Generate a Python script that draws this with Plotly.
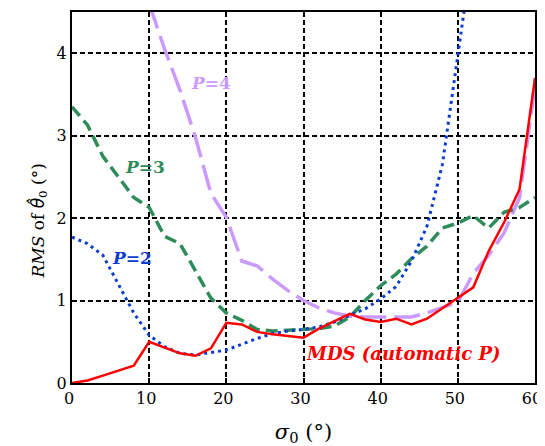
import plotly.graph_objects as go

x_mds = [0, 2, 4, 6, 8, 10, 12, 14, 16, 18, 20, 22, 24, 26, 28, 30, 32, 34, 36, 38, 40, 42, 44, 46, 48, 50, 52, 54, 56, 58, 60]
y_mds = [0.0, 0.03, 0.09, 0.15, 0.21, 0.50, 0.43, 0.36, 0.33, 0.42, 0.73, 0.71, 0.62, 0.59, 0.57, 0.55, 0.66, 0.75, 0.84, 0.77, 0.74, 0.78, 0.71, 0.78, 0.91, 1.04, 1.16, 1.60, 1.95, 2.35, 3.70]

x_p2 = [0, 2, 4, 6, 8, 10, 12, 14, 16, 18, 20, 22, 24, 26, 28, 30, 32, 34, 36, 38, 40, 42, 44, 46, 48, 50, 52]
y_p2 = [1.77, 1.69, 1.55, 1.20, 0.85, 0.58, 0.44, 0.36, 0.34, 0.37, 0.40, 0.47, 0.54, 0.60, 0.63, 0.65, 0.68, 0.74, 0.82, 0.90, 1.02, 1.17, 1.48, 1.90, 2.65, 4.00, 5.30]

x_p3 = [0, 2, 4, 6, 8, 10, 12, 14, 16, 18, 20, 22, 24, 26, 28, 30, 32, 34, 36, 38, 40, 42, 44, 46, 48, 50, 52, 54, 56, 58, 60]
y_p3 = [3.35, 3.13, 2.75, 2.50, 2.25, 2.13, 1.78, 1.69, 1.36, 1.03, 0.85, 0.76, 0.65, 0.63, 0.64, 0.65, 0.66, 0.69, 0.80, 1.00, 1.18, 1.32, 1.51, 1.66, 1.88, 1.94, 2.03, 1.88, 2.07, 2.13, 2.25]

x_p4 = [10, 12, 14, 16, 18, 20, 22, 24, 26, 28, 30, 32, 34, 36, 38, 40, 42, 44, 46, 48, 50, 52, 54, 56, 58, 60]
y_p4 = [4.60, 4.05, 3.55, 2.98, 2.30, 2.01, 1.48, 1.42, 1.26, 1.12, 1.00, 0.91, 0.85, 0.81, 0.80, 0.80, 0.80, 0.80, 0.85, 0.92, 0.98, 1.33, 1.55, 1.82, 2.25, 3.60]

x_ticks = [0, 10, 20, 30, 40, 50, 60]
x_ticklabels = ["0", "10", "20", "30", "40", "50", "60"]
y_ticks = [0, 1, 2, 3, 4]
y_ticklabels = ["0", "1", "2", "3", "4"]

RED = "#ff0000"
BLUE = "#0a3cd2"
GREEN = "#2e8b5a"
PURPLE = "#cc99ff"
FONT = "DejaVu Serif"

fig = go.Figure()
fig.add_trace(go.Scatter(x=x_p4, y=y_p4, mode="lines", line=dict(color=PURPLE, width=3.5, dash="26px,8px"), showlegend=False))
fig.add_trace(go.Scatter(x=x_p3, y=y_p3, mode="lines", line=dict(color=GREEN, width=3.5, dash="12px,6px"), showlegend=False))
fig.add_trace(go.Scatter(x=x_p2, y=y_p2, mode="lines", line=dict(color=BLUE, width=3, dash="3px,4px"), showlegend=False))
fig.add_trace(go.Scatter(x=x_mds, y=y_mds, mode="lines", line=dict(color=RED, width=2.5), showlegend=False))

labels = [
    ("P=4", 18.0, 3.64, PURPLE, 17),
    ("P=3", 9.5, 2.62, GREEN, 17),
    ("P=2", 7.8, 1.52, BLUE, 17),
    ("MDS (automatic P)", 43.0, 0.36, RED, 18),
]
for txt, lx, ly, col, fs in labels:
    if txt.startswith("P="):
        t = "<b><i>P</i>=" + txt[2:] + "</b>"
    else:
        t = "<b><i>" + txt + "</i></b>"
    fig.add_annotation(x=lx, y=ly, xref="x", yref="y", text=t, showarrow=False,
                       font=dict(family=FONT, size=fs, color=col))

# y-axis title placed as a rotated annotation (reference title sits a bit below centre)
ytitle = "<i>RMS</i> of <span style=\"font-family:DejaVu Sans\"><i>θ̂</i></span><sub>0</sub> (°)"
fig.add_annotation(x=-0.072, y=0.437, xref="paper", yref="paper", text=ytitle, showarrow=False,
                   textangle=-90, xanchor="center", yanchor="middle",
                   font=dict(family=FONT, size=17, color="black"))

axis_common = dict(
    showline=True, linecolor="black", linewidth=2, mirror=True,
    showgrid=True, gridcolor="black", gridwidth=1.5, griddash="5px,3px",
    ticks="inside", ticklen=5, tickcolor="black", tickwidth=1.5,
    zeroline=False, tickfont=dict(family=FONT, size=16, color="black"),
)

fig.update_layout(
    width=545, height=446,
    margin=dict(l=64, r=18, t=2, b=71),
    paper_bgcolor="white", plot_bgcolor="white",
    font=dict(family=FONT),
    xaxis=dict(range=[0, 60], tickvals=x_ticks, ticktext=x_ticklabels, ticklabelshift=-3,
               title=dict(text="<i>σ</i><sub>0</sub> (°)", font=dict(family=FONT, size=21, color="black"), standoff=17),
               **axis_common),
    yaxis=dict(range=[0, 4.5], tickvals=y_ticks, ticktext=y_ticklabels,
               **axis_common),
)

fig.write_html("out.html")
